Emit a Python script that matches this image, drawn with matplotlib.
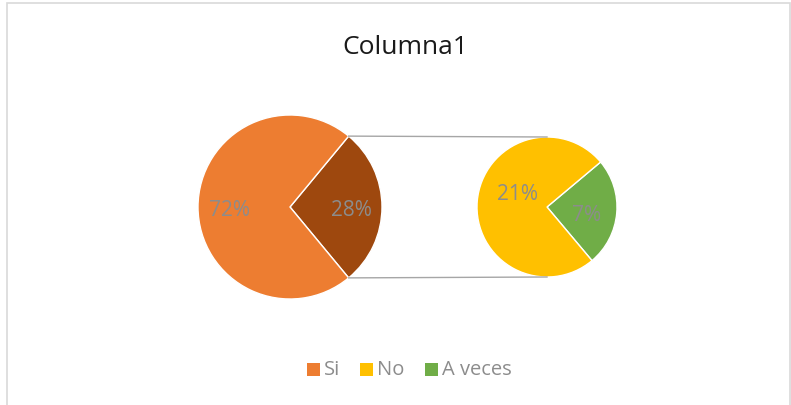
import numpy as np
import matplotlib.pyplot as plt
from matplotlib.patches import Rectangle

plt.rcParams['font.family'] = ['Open Sans', 'DejaVu Sans']

# Main pie: "Si" plus the grouped remainder; secondary pie splits that remainder
categories = ['Si', 'No', 'A veces']
main_values = [28, 72]          # grouped remainder, Si
sub_values = [7, 21]            # A veces, No
main_colors = ['#9E480E', '#ED7D31']
sub_colors = ['#70AD47', '#FFC000']
legend_colors = ['#ED7D31', '#FFC000', '#70AD47']
title = 'Columna1'

W, H = 791, 406
fig = plt.figure(figsize=(W / 100, H / 100), dpi=100)
ax = fig.add_axes([0, 0, 1, 1])

# chart frame
fig.patches.append(Rectangle((7 / W, -0.01), (W - 8) / W, (H - 4) / H + 0.01,
                             transform=fig.transFigure, fill=False,
                             edgecolor='#D9D9D9', lw=1.2))

main_c, main_r = (290, H - 208), 92
sub_c, sub_r = (547, H - 208), 70

total = sum(main_values)
main_start = -main_values[0] / total * 180
ax.pie(main_values, colors=main_colors, center=main_c, radius=main_r,
       startangle=main_start, counterclock=True, frame=True,
       wedgeprops=dict(edgecolor='white', linewidth=1))
ax.pie(sub_values, colors=sub_colors, center=sub_c, radius=sub_r,
       startangle=-50, counterclock=True, frame=True,
       wedgeprops=dict(edgecolor='white', linewidth=1))
ax.set_xlim(0, W)
ax.set_ylim(0, H)
ax.set_aspect('equal')
ax.axis('off')

# percentage labels
lbl = dict(color='#8C8C8C', fontsize=15, ha='center', va='center')
ax.text(main_c[0] - 61, main_c[1] - 3, f'{main_values[1]}%', **lbl)
ax.text(main_c[0] + 61, main_c[1] - 3, f'{main_values[0]}%', **lbl)
ax.text(sub_c[0] - 30, sub_c[1] + 13, f'{sub_values[1]}%', **lbl)
ax.text(sub_c[0] + 40, sub_c[1] - 8, f'{sub_values[0]}%', **lbl)

# connector lines between the grouped slice and the secondary pie
half = np.deg2rad(-main_start)
for s in (1, -1):
    x0 = main_c[0] + main_r * np.cos(half)
    y0 = main_c[1] + s * main_r * np.sin(half)
    ax.plot([x0, sub_c[0]], [y0, sub_c[1] + s * sub_r], color='#A6A6A6', lw=1)

ax.text(W / 2 + 10, H - 47, title, fontsize=19, color='#1A1A1A', ha='center', va='center')

# legend
xs = [307, 360, 425]
for x, name, col in zip(xs, categories, legend_colors):
    ax.add_patch(Rectangle((x, H - 377), 13, 13, color=col, lw=0))
    ax.text(x + 17, H - 370, name, fontsize=14.5, color='#8C8C8C', ha='left', va='center')

fig.savefig('out.png', dpi=100)
